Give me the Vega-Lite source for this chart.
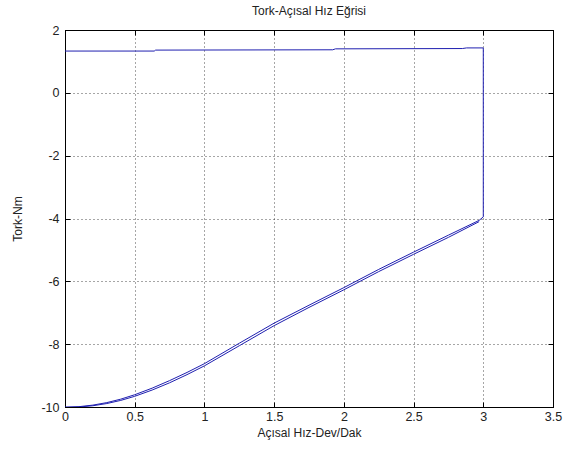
{
  "$schema": "https://vega.github.io/schema/vega-lite/v6.json",
  "width": 488,
  "height": 377,
  "autosize": {"type": "none"},
  "padding": {"left": 65, "top": 30, "right": 34, "bottom": 45},
  "background": "white",
  "title": {"text": "Tork-Açısal Hız Eğrisi", "font": "Liberation Sans", "fontSize": 12, "fontWeight": "normal", "color": "#222", "offset": 6},
  "config": {"view": {"stroke": "black", "strokeWidth": 1}},
  "data": {"values": [
    {"pass": "a", "o": 1, "x": 0.0, "y": -10.0},
    {"pass": "a", "o": 2, "x": 0.1, "y": -9.99},
    {"pass": "a", "o": 3, "x": 0.2, "y": -9.94},
    {"pass": "a", "o": 4, "x": 0.3, "y": -9.86},
    {"pass": "a", "o": 5, "x": 0.4, "y": -9.75},
    {"pass": "a", "o": 6, "x": 0.5, "y": -9.61},
    {"pass": "a", "o": 7, "x": 0.625, "y": -9.4},
    {"pass": "a", "o": 8, "x": 0.75, "y": -9.16},
    {"pass": "a", "o": 9, "x": 0.875, "y": -8.9},
    {"pass": "a", "o": 10, "x": 1.0, "y": -8.62},
    {"pass": "a", "o": 11, "x": 1.25, "y": -7.97},
    {"pass": "a", "o": 12, "x": 1.5, "y": -7.33},
    {"pass": "a", "o": 13, "x": 1.75, "y": -6.76},
    {"pass": "a", "o": 14, "x": 2.0, "y": -6.2},
    {"pass": "a", "o": 15, "x": 2.25, "y": -5.62},
    {"pass": "a", "o": 16, "x": 2.5, "y": -5.07},
    {"pass": "a", "o": 17, "x": 2.75, "y": -4.53},
    {"pass": "a", "o": 18, "x": 2.97, "y": -4.06},
    {"pass": "a", "o": 19, "x": 3.0, "y": -3.95},
    {"pass": "a", "o": 20, "x": 3.0, "y": 1.43},
    {"pass": "a", "o": 21, "x": 2.88, "y": 1.43},
    {"pass": "a", "o": 22, "x": 2.85, "y": 1.41},
    {"pass": "a", "o": 23, "x": 1.94, "y": 1.4},
    {"pass": "a", "o": 24, "x": 1.92, "y": 1.37},
    {"pass": "a", "o": 25, "x": 0.65, "y": 1.36},
    {"pass": "a", "o": 26, "x": 0.64, "y": 1.33},
    {"pass": "a", "o": 27, "x": 0.0, "y": 1.33},
    {"pass": "b", "o": 1, "x": 0.0, "y": -10.02},
    {"pass": "b", "o": 2, "x": 0.1, "y": -10.0},
    {"pass": "b", "o": 3, "x": 0.2, "y": -9.96},
    {"pass": "b", "o": 4, "x": 0.3, "y": -9.89},
    {"pass": "b", "o": 5, "x": 0.4, "y": -9.79},
    {"pass": "b", "o": 6, "x": 0.5, "y": -9.66},
    {"pass": "b", "o": 7, "x": 0.625, "y": -9.46},
    {"pass": "b", "o": 8, "x": 0.75, "y": -9.23},
    {"pass": "b", "o": 9, "x": 0.875, "y": -8.97},
    {"pass": "b", "o": 10, "x": 1.0, "y": -8.69},
    {"pass": "b", "o": 11, "x": 1.25, "y": -8.05},
    {"pass": "b", "o": 12, "x": 1.5, "y": -7.41},
    {"pass": "b", "o": 13, "x": 1.75, "y": -6.83},
    {"pass": "b", "o": 14, "x": 2.0, "y": -6.27},
    {"pass": "b", "o": 15, "x": 2.25, "y": -5.69},
    {"pass": "b", "o": 16, "x": 2.5, "y": -5.14},
    {"pass": "b", "o": 17, "x": 2.75, "y": -4.6},
    {"pass": "b", "o": 18, "x": 2.97, "y": -4.1}
  ]},
  "layer": [
    {
      "mark": {"type": "line", "color": "#1f1fb0", "strokeWidth": 1, "clip": true},
      "encoding": {
        "x": {"field": "x", "type": "quantitative",
          "scale": {"domain": [0, 3.5], "nice": false, "zero": false},
          "axis": {"orient": "bottom", "values": [0, 0.5, 1, 1.5, 2, 2.5, 3, 3.5], "format": "~g", "title": "Açısal Hız-Dev/Dak",
            "labelFont": "Liberation Sans", "labelFontSize": 12.5, "labelColor": "#222", "labelPadding": 8,
            "titleFont": "Liberation Sans", "titleFontSize": 12, "titleFontWeight": "normal", "titleColor": "#222", "titlePadding": 5,
            "domainColor": "black", "tickColor": "black", "tickSize": -5, "labelFlush": false,
            "grid": true, "gridColor": "black", "gridDash": [1, 3], "gridOpacity": 0.7}},
        "y": {"field": "y", "type": "quantitative",
          "scale": {"domain": [-10, 2], "nice": false, "zero": false},
          "axis": {"orient": "left", "values": [-10, -8, -6, -4, -2, 0, 2], "title": "Tork-Nm",
            "labelExpr": "replace(format(datum.value, '~g'), '−', '-')",
            "labelFont": "Liberation Sans", "labelFontSize": 12.5, "labelColor": "#222", "labelPadding": 11,
            "titleFont": "Liberation Sans", "titleFontSize": 12, "titleFontWeight": "normal", "titleColor": "#222", "titlePadding": 16,
            "domainColor": "black", "tickColor": "black", "tickSize": -5, "labelFlush": false,
            "grid": true, "gridColor": "black", "gridDash": [1, 3], "gridOpacity": 0.7}},
        "detail": {"field": "pass"},
        "order": {"field": "o"}
      }
    },
    {
      "mark": {"type": "line", "opacity": 0},
      "encoding": {
        "x": {"field": "x", "type": "quantitative",
          "axis": {"orient": "top", "values": [0, 0.5, 1, 1.5, 2, 2.5, 3, 3.5], "labels": false, "title": null, "grid": false,
            "domainColor": "black", "tickColor": "black", "tickSize": -5}},
        "y": {"field": "y", "type": "quantitative",
          "axis": {"orient": "right", "values": [-10, -8, -6, -4, -2, 0, 2], "labels": false, "title": null, "grid": false,
            "domainColor": "black", "tickColor": "black", "tickSize": -5}},
        "detail": {"field": "pass"},
        "order": {"field": "o"}
      }
    }
  ]
}
